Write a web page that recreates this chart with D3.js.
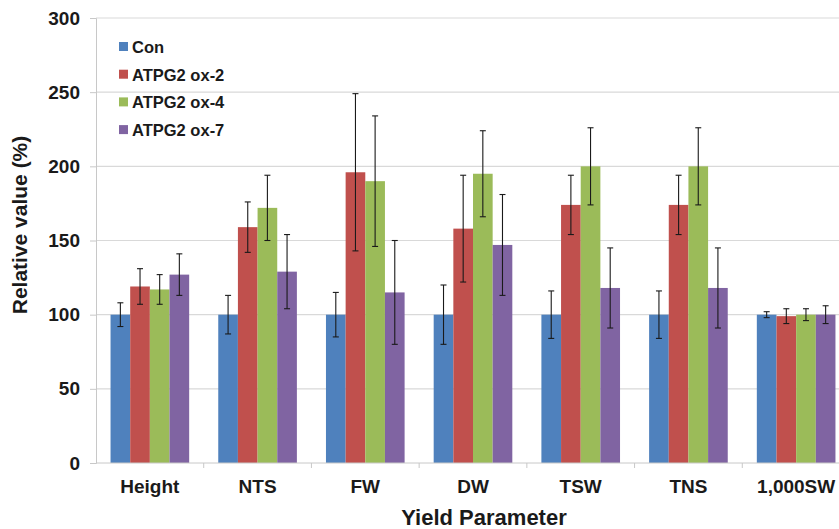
<!DOCTYPE html>
<html>
<head>
<meta charset="utf-8">
<script src="https://cdn.jsdelivr.net/npm/d3@7"></script>
<style>
  body { margin: 0; background: #fff; }
  svg { display: block; overflow: hidden; }
  text { font-family: "Liberation Sans", Arial, sans-serif; font-weight: bold; fill: #1a1a1a; }
</style>
</head>
<body>
<div id="chart"></div>
<script>
// Data
const categories = ["Height", "NTS", "FW", "DW", "TSW", "TNS", "1,000SW"];
const seriesNames = ["Con", "ATPG2 ox-2", "ATPG2 ox-4", "ATPG2 ox-7"];
const colors = ["#4f81bd", "#c0504d", "#9bbb59", "#8064a2"];

const conValues = [100, 100, 100, 100, 100, 100, 100];
const ox2Values = [119, 159, 196, 158, 174, 174, 99];
const ox4Values = [117, 172, 190, 195, 200, 200, 100];
const ox7Values = [127, 129, 115, 147, 118, 118, 100];

const conErr = [8, 13, 15, 20, 16, 16, 2];
const ox2Err = [12, 17, 53, 36, 20, 20, 5];
const ox4Err = [10, 22, 44, 29, 26, 26, 4];
const ox7Err = [14, 25, 35, 34, 27, 27, 6];

const yTicks = [0, 50, 100, 150, 200, 250, 300];

const allValues = [conValues, ox2Values, ox4Values, ox7Values];
const allErr = [conErr, ox2Err, ox4Err, ox7Err];

const width = 839, height = 529;
const margin = { top: 18, left: 96, bottom: 66 };
const plotRight = 850; // plot area runs slightly past the picture edge

const svg = d3.select("#chart")
  .append("svg")
  .attr("width", width)
  .attr("height", height);

const x = d3.scaleBand()
  .domain(categories)
  .range([margin.left, plotRight])
  .paddingInner(0.27)
  .paddingOuter(0.135);

// band scale for the group boundaries (tick marks)
const xOuter = d3.scaleBand().domain(categories).range([margin.left, plotRight]);

const xSub = d3.scaleBand()
  .domain(seriesNames)
  .range([0, x.bandwidth()]);

const y = d3.scaleLinear()
  .domain([0, 300])
  .range([height - margin.bottom, margin.top]);

// gridlines
svg.append("g")
  .selectAll("line")
  .data(yTicks.slice(1))
  .enter()
  .append("line")
  .attr("x1", margin.left)
  .attr("x2", plotRight)
  .attr("y1", (d) => y(d))
  .attr("y2", (d) => y(d))
  .attr("stroke", "#d9d9d9")
  .attr("stroke-width", 1.2);

// bars
const rows = [];
categories.forEach((c, i) => {
  seriesNames.forEach((s, j) => {
    rows.push({ cat: c, series: s, idx: j, value: allValues[j][i], err: allErr[j][i] });
  });
});

svg.append("g")
  .selectAll("rect")
  .data(rows)
  .enter()
  .append("rect")
  .attr("x", (d) => x(d.cat) + xSub(d.series))
  .attr("y", (d) => y(d.value))
  .attr("width", xSub.bandwidth())
  .attr("height", (d) => y(0) - y(d.value))
  .attr("fill", (d) => colors[d.idx]);

// error bars
const errG = svg.append("g")
  .attr("stroke", "#1a1a1a")
  .attr("stroke-width", 1.1);

const eb = errG.selectAll("g")
  .data(rows)
  .enter()
  .append("g")
  .attr("transform", (d) => `translate(${x(d.cat) + xSub(d.series) + xSub.bandwidth() / 2},0)`);

eb.append("line")
  .attr("y1", (d) => y(d.value + d.err))
  .attr("y2", (d) => y(d.value - d.err));
eb.append("line")
  .attr("x1", -3).attr("x2", 3)
  .attr("y1", (d) => y(d.value + d.err))
  .attr("y2", (d) => y(d.value + d.err));
eb.append("line")
  .attr("x1", -3).attr("x2", 3)
  .attr("y1", (d) => y(d.value - d.err))
  .attr("y2", (d) => y(d.value - d.err));

// y axis
const yAxis = svg.append("g")
  .attr("transform", `translate(${margin.left},0)`)
  .call(d3.axisLeft(y).tickValues(yTicks).tickSize(6).tickPadding(10));
yAxis.select(".domain").attr("stroke", "#c8c8c8");
yAxis.selectAll(".tick line").attr("stroke", "#c8c8c8");
yAxis.selectAll("text")
  .style("font-size", "19px")
  .attr("fill", "#1a1a1a");

// x axis line and group ticks
const xAxis = svg.append("g")
  .attr("transform", `translate(0,${y(0)})`);
xAxis.append("line")
  .attr("x1", margin.left)
  .attr("x2", plotRight)
  .attr("stroke", "#c8c8c8");
xAxis.selectAll(".gtick")
  .data(categories)
  .enter()
  .append("line")
  .attr("x1", (d) => xOuter(d) + xOuter.bandwidth())
  .attr("x2", (d) => xOuter(d) + xOuter.bandwidth())
  .attr("y1", 0)
  .attr("y2", 5)
  .attr("stroke", "#c8c8c8");
xAxis.selectAll("text")
  .data(categories)
  .enter()
  .append("text")
  .attr("x", (d) => xOuter(d) + xOuter.bandwidth() / 2)
  .attr("y", 30)
  .attr("text-anchor", "middle")
  .style("font-size", "19px")
  .text((d) => d);

// axis titles
svg.append("text")
  .attr("x", 484)
  .attr("y", 525)
  .attr("text-anchor", "middle")
  .style("font-size", "22px")
  .text("Yield Parameter");

svg.append("text")
  .attr("transform", "translate(27,225) rotate(-90)")
  .attr("text-anchor", "middle")
  .style("font-size", "21px")
  .text("Relative value (%)");

// legend
const legend = svg.append("g")
  .attr("transform", "translate(119,47)");
const li = legend.selectAll("g")
  .data(seriesNames)
  .enter()
  .append("g")
  .attr("transform", (d, i) => `translate(0,${i * 27.7})`);
li.append("rect")
  .attr("x", 0)
  .attr("y", -5)
  .attr("width", 9)
  .attr("height", 9)
  .attr("fill", (d, i) => colors[i]);
li.append("text")
  .attr("x", 13)
  .attr("y", 6)
  .style("font-size", "16.5px")
  .text((d) => d);
</script>
</body>
</html>
